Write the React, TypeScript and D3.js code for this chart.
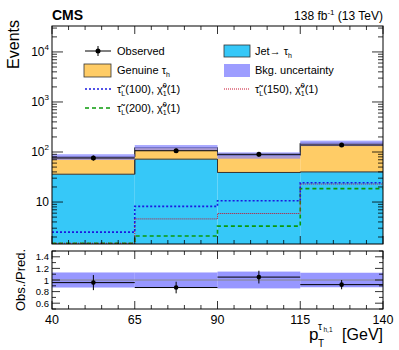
import React from "react";
import * as d3 from "d3";

const W = 399;
const H = 350;
const font = "'Liberation Sans', Arial, sans-serif";

// bins in pT [GeV]
const binEdges = [40, 65, 90, 115, 140];
const jetFakes = [36, 72, 39, 40];
const genuineTau = [44, 50, 47, 110];
const observed = [76, 106, 90, 138];
const bkgUnc = [0.13, 0.13, 0.145, 0.125];
const sig100 = [2.5, 8.2, 10.6, 24.3];
const sig150 = [1.5, 4.6, 5.9, 22.9];
const sig200 = [1.5, 2.1, 3.3, 18.5];
const ratioObs = [0.955, 0.87, 1.05, 0.92];
const ratioErr = [0.13, 0.1, 0.11, 0.08];

const xMajor = [40, 65, 90, 115, 140];
const ratioTicks = [0.6, 0.8, 1, 1.2, 1.4];
const logDecades = [1, 2, 3, 4];

const frame = { left: 52, right: 383, top: 26, bottom: 244 };
const rframe = { top: 251, bottom: 309 };

const x = d3.scaleLinear().domain([40, 140]).range([frame.left, frame.right]);
const y = d3.scaleLog().domain([1.45, 33000]).range([frame.bottom, frame.top]).clamp(true);
const yr = d3.scaleLinear().domain([0.5, 1.5]).range([rframe.bottom, rframe.top]);

const total = jetFakes.map((v, i) => v + genuineTau[i]);
const bins = d3.range(binEdges.length - 1);

function stepPath(vals: number[], ys: (v: number) => number) {
  const pts: [number, number][] = [];
  bins.forEach((i) => {
    pts.push([x(binEdges[i]), ys(vals[i])]);
    pts.push([x(binEdges[i + 1]), ys(vals[i])]);
  });
  return d3.line()(pts) || "";
}

function XTicks({ top, bottom }: { top: number; bottom: number }) {
  const minor = d3.range(40, 141, 5);
  return (
    <g stroke="#000" strokeWidth={0.8}>
      {minor.map((v) => {
        const len = xMajor.includes(v) ? 8 : 4;
        return (
          <g key={v}>
            <line x1={x(v)} x2={x(v)} y1={bottom} y2={bottom - len} />
            <line x1={x(v)} x2={x(v)} y1={top} y2={top + len} />
          </g>
        );
      })}
    </g>
  );
}

function LogTicks() {
  const ticks: { v: number; major: boolean }[] = [];
  [1, 10, 100, 1000, 10000].forEach((d) => {
    for (let k = 1; k < 10; k++) {
      const v = d * k;
      if (v >= 1.45 && v <= 33000) ticks.push({ v, major: k === 1 });
    }
  });
  return (
    <g stroke="#000" strokeWidth={0.8}>
      {ticks.map((t) => {
        const len = t.major ? 11 : 5;
        return (
          <g key={t.v}>
            <line x1={frame.left} x2={frame.left + len} y1={y(t.v)} y2={y(t.v)} />
            <line x1={frame.right} x2={frame.right - len} y1={y(t.v)} y2={y(t.v)} />
          </g>
        );
      })}
    </g>
  );
}

function RatioTicks() {
  const minor = d3.range(0.5, 1.51, 0.1);
  return (
    <g stroke="#000" strokeWidth={0.8}>
      {minor.map((v) => {
        const major = ratioTicks.some((t) => Math.abs(t - v) < 1e-6);
        const len = major ? 8 : 4;
        return (
          <g key={v}>
            <line x1={frame.left} x2={frame.left + len} y1={yr(v)} y2={yr(v)} />
            <line x1={frame.right} x2={frame.right - len} y1={yr(v)} y2={yr(v)} />
          </g>
        );
      })}
    </g>
  );
}

function StauLabel({ x0, y0, mass }: { x0: number; y0: number; mass: string }) {
  return (
    <text x={x0} y={y0} fontSize={11} fontFamily={font} fill="#000">
      {"\u03C4\u0303"}
      <tspan fontSize={7} dy={3}>L</tspan>
      <tspan dy={-3}>{"(" + mass + "), \u03C7\u0303"}</tspan>
      <tspan fontSize={7} dy={-5}>0</tspan>
      <tspan fontSize={7} dx={-4} dy={8}>1</tspan>
      <tspan dy={-3}>(1)</tspan>
    </text>
  );
}

export default function App() {
  const cyan = "#36c8f8";
  const orange = "#ffcc66";
  const band = "#8585ff";

  return (
    <svg
      width={W}
      height={H}
      style={{ position: "absolute", left: 0, top: 0, background: "#fff" }}
    >
      <rect width={W} height={H} fill="#fff" />

      {/* stack */}
      {bins.map((i) => (
        <g key={"s" + i}>
          <rect
            x={x(binEdges[i])}
            width={x(binEdges[i + 1]) - x(binEdges[i])}
            y={y(jetFakes[i])}
            height={frame.bottom - y(jetFakes[i])}
            fill={cyan}
          />
          <rect
            x={x(binEdges[i])}
            width={x(binEdges[i + 1]) - x(binEdges[i])}
            y={y(total[i])}
            height={y(jetFakes[i]) - y(total[i])}
            fill={orange}
          />
        </g>
      ))}
      <path d={stepPath(jetFakes, y)} fill="none" stroke="#333" strokeWidth={1} />
      <path d={stepPath(total, y)} fill="none" stroke="#333" strokeWidth={1} />
      {binEdges.slice(1, -1).map((e, k) => (
        <g key={"e" + k} stroke="#333" strokeWidth={1}>
          <line x1={x(e)} x2={x(e)} y1={y(jetFakes[k])} y2={y(jetFakes[k + 1])} />
          <line x1={x(e)} x2={x(e)} y1={y(total[k])} y2={y(total[k + 1])} />
        </g>
      ))}

      {/* bkg uncertainty */}
      {bins.map((i) => (
        <rect
          key={"u" + i}
          x={x(binEdges[i])}
          width={x(binEdges[i + 1]) - x(binEdges[i])}
          y={y(total[i] * (1 + bkgUnc[i]))}
          height={y(total[i] * (1 - bkgUnc[i])) - y(total[i] * (1 + bkgUnc[i]))}
          fill={band}
          opacity={0.7}
        />
      ))}

      {/* signals */}
      <path d={stepPath(sig200, y)} fill="none" stroke="#0a9a0a" strokeWidth={1.6} strokeDasharray="4,3" />
      <path d={stepPath(sig150, y)} fill="none" stroke="#c8102e" strokeWidth={1} strokeDasharray="1,1" />
      <path d={stepPath(sig100, y)} fill="none" stroke="#1a1ae0" strokeWidth={1.6} strokeDasharray="2,2" />

      {/* observed */}
      {bins.map((i) => {
        const cx = x((binEdges[i] + binEdges[i + 1]) / 2);
        const e = Math.sqrt(observed[i]);
        return (
          <g key={"o" + i} stroke="#000" strokeWidth={1}>
            <line x1={x(binEdges[i])} x2={x(binEdges[i + 1])} y1={y(observed[i])} y2={y(observed[i])} />
            <line x1={cx} x2={cx} y1={y(observed[i] + e)} y2={y(observed[i] - e)} />
            <circle cx={cx} cy={y(observed[i])} r={2.5} fill="#000" stroke="none" />
          </g>
        );
      })}

      {/* top frame */}
      <XTicks top={frame.top} bottom={frame.bottom} />
      <LogTicks />
      <rect
        x={frame.left}
        y={frame.top}
        width={frame.right - frame.left}
        height={frame.bottom - frame.top}
        fill="none"
        stroke="#000"
        strokeWidth={1}
      />
      {logDecades.map((d) => (
        <text
          key={"l" + d}
          x={frame.left - 3}
          y={y(Math.pow(10, d)) + 4}
          textAnchor="end"
          fontSize={12}
          fontFamily={font}
        >
          {d === 1 ? "10" : (
            <>
              10
              <tspan fontSize={8} dy={-6}>{d}</tspan>
            </>
          )}
        </text>
      ))}
      <text
        transform={`translate(19,20) rotate(-90)`}
        textAnchor="end"
        fontSize={16}
        fontFamily={font}
      >
        Events
      </text>
      <text x={frame.left} y={20} fontSize={14} fontWeight="bold" fontFamily={font}>
        CMS
      </text>
      <text x={frame.right} y={20} textAnchor="end" fontSize={12} fontFamily={font}>
        138 fb<tspan fontSize={8} dy={-5}>-1</tspan>
        <tspan dy={5}> (13 TeV)</tspan>
      </text>

      {/* legend */}
      <g fontFamily={font} fontSize={11}>
        <line x1={85} x2={111} y1={51} y2={51} stroke="#000" strokeWidth={1} />
        <line x1={98} x2={98} y1={46} y2={56} stroke="#000" strokeWidth={1} />
        <circle cx={98} cy={51} r={2.5} fill="#000" />
        <text x={117} y={55}>Observed</text>

        <rect x={84} y={64} width={27} height={13} fill={orange} stroke="#333" strokeWidth={0.8} />
        <text x={117} y={74}>
          Genuine τ<tspan fontSize={7} dy={3}>h</tspan>
        </text>

        <line x1={85} x2={111} y1={89} y2={89} stroke="#1a1ae0" strokeWidth={1.6} strokeDasharray="2,2" />
        <StauLabel x0={117} y0={93} mass="100" />

        <line x1={85} x2={111} y1={108} y2={108} stroke="#0a9a0a" strokeWidth={1.6} strokeDasharray="4,3" />
        <StauLabel x0={117} y0={112} mass="200" />

        <rect x={224} y={45} width={26} height={12} fill={cyan} stroke="#333" strokeWidth={0.8} />
        <text x={255} y={55}>
          Jet→ τ<tspan fontSize={7} dy={3}>h</tspan>
        </text>

        <rect x={224} y={64} width={26} height={13} fill={band} opacity={0.8} />
        <text x={255} y={74}>Bkg. uncertainty</text>

        <line x1={224} x2={250} y1={89} y2={89} stroke="#c8102e" strokeWidth={1} strokeDasharray="1,1" />
        <StauLabel x0={255} y0={93} mass="150" />
      </g>

      {/* ratio panel */}
      {bins.map((i) => (
        <rect
          key={"rb" + i}
          x={x(binEdges[i])}
          width={x(binEdges[i + 1]) - x(binEdges[i])}
          y={yr(1 + bkgUnc[i])}
          height={yr(1 - bkgUnc[i]) - yr(1 + bkgUnc[i])}
          fill={band}
          opacity={0.85}
        />
      ))}
      <line x1={frame.left} x2={frame.right} y1={yr(1)} y2={yr(1)} stroke="#888" strokeWidth={1} />
      {bins.map((i) => {
        const cx = x((binEdges[i] + binEdges[i + 1]) / 2);
        return (
          <g key={"r" + i} stroke="#000" strokeWidth={1}>
            <line x1={x(binEdges[i])} x2={x(binEdges[i + 1])} y1={yr(ratioObs[i])} y2={yr(ratioObs[i])} />
            <line x1={cx} x2={cx} y1={yr(ratioObs[i] + ratioErr[i])} y2={yr(ratioObs[i] - ratioErr[i])} />
            <circle cx={cx} cy={yr(ratioObs[i])} r={2.3} fill="#000" stroke="none" />
          </g>
        );
      })}
      <XTicks top={rframe.top} bottom={rframe.bottom} />
      <RatioTicks />
      <rect
        x={frame.left}
        y={rframe.top}
        width={frame.right - frame.left}
        height={rframe.bottom - rframe.top}
        fill="none"
        stroke="#000"
        strokeWidth={1}
      />
      {ratioTicks.map((t) => (
        <text
          key={"rt" + t}
          x={frame.left - 3}
          y={yr(t) + 3.5}
          textAnchor="end"
          fontSize={9.5}
          fontFamily={font}
        >
          {d3.format("~g")(t)}
        </text>
      ))}
      <text
        transform={`translate(25,${(rframe.top + rframe.bottom) / 2}) rotate(-90)`}
        textAnchor="middle"
        fontSize={13}
        fontFamily={font}
      >
        Obs./Pred.
      </text>
      {xMajor.map((v) => (
        <text key={"xt" + v} x={x(v)} y={324} textAnchor="middle" fontSize={12.5} fontFamily={font}>
          {v}
        </text>
      ))}
      {/* x axis title: p_T^{tau_h,1} [GeV] */}
      <g fontFamily={font}>
        <text x={309} y={340} fontSize={17}>p</text>
        <text x={318} y={347} fontSize={10}>T</text>
        <text x={318} y={330} fontSize={10}>τ</text>
        <text x={323.5} y={332} fontSize={6.5}>h,1</text>
        <text x={frame.right} y={340} textAnchor="end" fontSize={16}>[GeV]</text>
      </g>
    </svg>
  );
}
